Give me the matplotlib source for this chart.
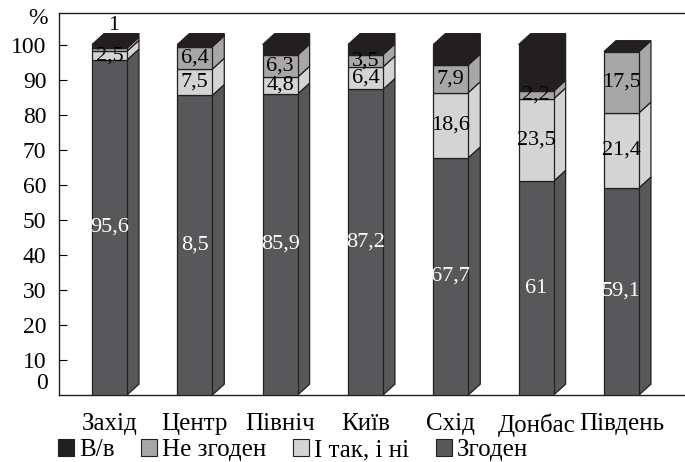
import matplotlib.pyplot as plt
from matplotlib.patches import Polygon, Patch

plt.rcParams['font.family'] = ['Liberation Serif', 'DejaVu Serif']

# data
regions = ['Захід', 'Центр', 'Північ', 'Київ', 'Схід', 'Донбас', 'Південь']
agree = [95.6, 85.5, 85.9, 87.2, 67.7, 61.0, 59.1]
both = [2.5, 7.5, 4.8, 6.4, 18.6, 23.5, 21.4]
disagree = [0.9, 6.4, 6.3, 3.5, 7.9, 2.2, 17.5]
dontknow = [1.0, 0.6, 3.0, 2.9, 5.8, 13.3, 0.0]

agree_lbl = ['95,6', '8,5', '85,9', '87,2', '67,7', '61', '59,1']
both_lbl = ['2,5', '7,5', '4,8', '6,4', '18,6', '23,5', '21,4']
disagree_lbl = ['', '6,4', '6,3', '3,5', '7,9', '2,2', '17,5']

series = [agree, both, disagree, dontknow]
names = ['Згоден', 'І так, і ні', 'Не згоден', 'В/в']
colors = ['#58585a', '#d4d4d5', '#a7a7a8', '#231f20']
edge = '#231f20'

w = 0.41
dx, dy = 0.14, 3.1

fig = plt.figure(figsize=(6.85, 4.62), dpi=100)
ax = fig.add_axes([59/685, 67/462, 626/685, 382/462])

for i in range(len(regions)):
    xl, xr = i - w/2, i + w/2
    base = 0
    for vals, c in zip(series, colors):
        v = vals[i]
        top = base + v
        if v > 0:
            ax.add_patch(Polygon([(xl, base), (xr, base), (xr, top), (xl, top)],
                                 closed=True, fc=c, ec=edge, lw=0.9, zorder=3))
            ax.add_patch(Polygon([(xr, base), (xr+dx, base+dy), (xr+dx, top+dy), (xr, top)],
                                 closed=True, fc=c, ec=edge, lw=0.9, zorder=2))
        base = top
    # top face takes the colour of the last series
    ax.add_patch(Polygon([(xl, base), (xl+dx, base+dy), (xr+dx, base+dy), (xr, base)],
                         closed=True, fc=colors[-1], ec=edge, lw=0.9, zorder=3))

    ax.text(i, agree[i]/2, agree_lbl[i], ha='center', va='center',
            color='white', fontsize=16, zorder=5)
    ax.text(i, agree[i] + both[i]/2, both_lbl[i], ha='center', va='center',
            color='black', fontsize=16, zorder=5)
    if disagree_lbl[i]:
        ax.text(i, agree[i] + both[i] + disagree[i]/2, disagree_lbl[i],
                ha='center', va='center', color='black', fontsize=16, zorder=5)

ax.text(0.05, 105.3, '1', ha='center', va='center', fontsize=16)

ax.set_xlim(-0.592, 6.744)
ax.set_ylim(0, 109)
ax.set_yticks(range(10, 101, 10))
ax.set_yticklabels([str(t) for t in range(10, 101, 10)], fontsize=17)
ax.tick_params(axis='y', direction='in', length=6, width=0.8, pad=9)
ax.text(-0.72, 3.2, '0', ha='right', va='center', fontsize=17)
ax.text(-0.72, 107.3, '%', ha='right', va='center', fontsize=17, clip_on=False)

ax.set_xticks(range(len(regions)))
ax.set_xticklabels(regions, fontsize=18)
ax.tick_params(axis='x', length=0, pad=13)

for s in ['left', 'top', 'bottom']:
    ax.spines[s].set_linewidth(1.0)
    ax.spines[s].set_color('#231f20')
ax.spines['right'].set_visible(False)

handles = [Patch(fc=c, ec=edge, lw=0.8) for c in colors[::-1]]
fig.legend(handles, names[::-1], loc='center left', bbox_to_anchor=(0.085, 1 - 450/462),
           ncol=4, frameon=False, fontsize=18, handlelength=0.65, handleheight=0.65,
           handletextpad=0.2, columnspacing=1.05, borderpad=0, borderaxespad=0)

fig.savefig('out.png', dpi=100)
